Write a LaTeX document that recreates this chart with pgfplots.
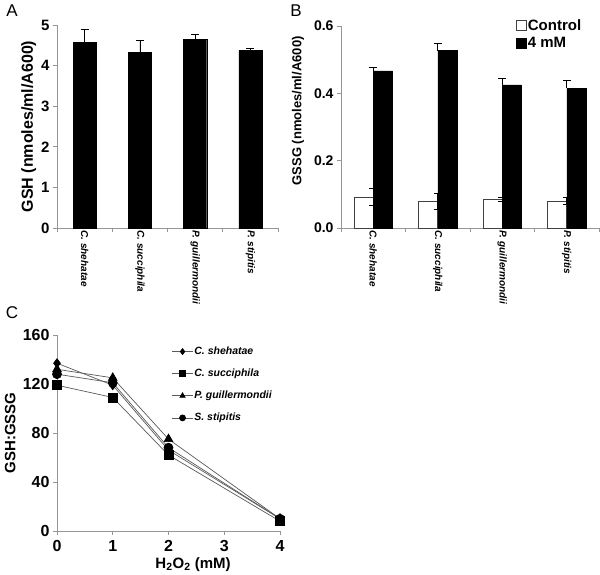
\documentclass[border=0pt]{standalone}
\usepackage{fontspec}
\setmainfont{Liberation Sans}
\usepackage{pgfplots}
\pgfplotsset{compat=1.18}
\definecolor{axgray}{RGB}{150,150,150}
\definecolor{lngray}{RGB}{90,90,90}
\begin{document}
\begin{tikzpicture}
\useasboundingbox (0pt,0pt) rectangle (600pt,575pt);
\pgfplotsset{
  common/.style={
    scale only axis,
    axis x line*=bottom, axis y line*=left,
    axis line style={draw=axgray,-},
    tick style={draw=axgray, line width=0.6pt},
    tick align=outside,
    major tick length=4pt,
    /pgf/number format/assume math mode=true,
    clip=false,
  },
  catx/.style={
    xmin=-0.5, xmax=3.5,
    xtick={-0.5,0.5,1.5,2.5,3.5}, xticklabels={},
    extra x ticks={0,1,2,3},
    extra x tick labels={C. shehatae, C. succiphila, P. guillermondii, P. stipitis},
    extra x tick style={major tick length=0pt,
      xticklabel style={rotate=-90, anchor=west, xshift=-1pt,
      font=\fontsize{10}{11}\selectfont\bfseries\itshape}},
  },
}
% ---------------- Panel A ----------------
\begin{axis}[common, catx,
  anchor=south west, at={(57pt,347pt)}, width=221pt, height=203pt,
  ymin=0, ymax=5, ytick={0,1,2,3,4,5},
  yticklabel style={font=\fontsize{15}{17}\selectfont\bfseries},
  ylabel={GSH (nmoles/ml/A600)},
  ylabel style={at={(axis description cs:-0.128,0.5)}, anchor=center,
    font=\fontsize{16}{18}\selectfont\bfseries},
]
\addplot[ybar, bar width=0.42, fill=black, draw=black,
  error bars/.cd, y dir=plus, y explicit,
  error bar style={black, line width=0.6pt},
  error mark options={rotate=90, mark size=4pt, black, line width=0.6pt}]
  coordinates {(0,4.58) +- (0,0.32) (1,4.32) +- (0,0.31) (2,4.65) +- (0,0.13) (3,4.37) +- (0,0.05)};
\end{axis}
% ---------------- Panel B ----------------
\begin{axis}[common, catx,
  anchor=south west, at={(341pt,347pt)}, width=258pt, height=202pt,
  ymin=0, ymax=0.6, ytick={0,0.2,0.4,0.6},
  yticklabel style={font=\fontsize{14}{16}\selectfont\bfseries,
    /pgf/number format/.cd, fixed, fixed zerofill, precision=1},
  ylabel={GSSG (nmoles/ml/A600)},
  ylabel style={at={(axis description cs:-0.167,0.58)}, anchor=center,
    font=\fontsize{13}{15}\selectfont\bfseries},
  legend style={at={(axis description cs:0.665,1.05)}, anchor=north west, draw=none, fill=none,
    font=\fontsize{15}{17}\selectfont\bfseries, row sep=2pt,
    nodes={inner sep=1.5pt}},
  legend cell align=left,
  legend image code/.code={\draw[#1,line width=0.6pt] (0pt,-5pt) rectangle (10pt,5pt);},
]
\addplot[ybar, bar width=0.295, bar shift=-0.1475, fill=white, draw=black!75, line width=0.6pt,
  error bars/.cd, y dir=both, y explicit,
  error bar style={black, line width=0.6pt},
  error mark options={rotate=90, mark size=4pt, black, line width=0.6pt}]
  coordinates {(0,0.092) +- (0,0.026) (1,0.080) +- (0,0.024) (2,0.085) +- (0,0.005) (3,0.080) +- (0,0.010)};
\addlegendentry{Control}
\addplot[ybar, bar width=0.295, bar shift=0.1475, fill=black, draw=black,
  error bars/.cd, y dir=plus, y explicit,
  error bar style={black, line width=0.6pt},
  error mark options={rotate=90, mark size=4pt, black, line width=0.6pt}]
  coordinates {(0,0.467) +- (0,0.011) (1,0.527) +- (0,0.021) (2,0.425) +- (0,0.020) (3,0.415) +- (0,0.025)};
\addlegendentry{4 mM}
\end{axis}
% ---------------- Panel C ----------------
\begin{axis}[common,
  anchor=south west, at={(57pt,44pt)}, width=223pt, height=196pt,
  xmin=0, xmax=4, ymin=0, ymax=160,
  xtick={0,1,2,3,4}, ytick={0,40,80,120,160},
  ticklabel style={font=\fontsize{16}{18}\selectfont\bfseries},
  xticklabel style={yshift=-2pt},
  xlabel={H\textsubscript{2}O\textsubscript{2} (mM)},
  ylabel={GSH:GSSG},
  ylabel style={at={(axis description cs:-0.21,0.5)}, anchor=center,
    font=\fontsize{15}{17}\selectfont\bfseries},
  xlabel style={at={(axis description cs:0.61,-0.172)}, anchor=center,
    font=\fontsize{15}{17}\selectfont\bfseries},
  legend style={at={(axis description cs:0.5,0.955)}, anchor=north west, draw=none, fill=none,
    font=\fontsize{10.5}{12}\selectfont\bfseries\itshape, row sep=11pt,
    nodes={inner sep=1pt}},
  legend cell align=left,
  legend image code/.code={\draw[mark repeat=2,mark phase=2,#1] plot coordinates {(0pt,0pt) (10.5pt,0pt) (21pt,0pt)};},
  legend image post style={mark size=3pt},
]
\addplot[lngray, line width=0.7pt, mark=diamond*, mark size=4.5pt, mark options={fill=black, draw=black}]
  coordinates {(0,137) (1,119) (2,66) (4,10)};
\addlegendentry{C. shehatae}
\addplot[lngray, line width=0.7pt, mark=square*, mark size=4.5pt, mark options={fill=black, draw=black}]
  coordinates {(0,119) (1,109) (2,62) (4,8)};
\addlegendentry{C. succiphila}
\addplot[lngray, line width=0.7pt, mark=triangle*, mark size=5pt, mark options={fill=black, draw=black}]
  coordinates {(0,132) (1,125) (2,75) (4,10)};
\addlegendentry{P. guillermondii}
\addplot[lngray, line width=0.7pt, mark=*, mark size=4.5pt, mark options={fill=black, draw=black}]
  coordinates {(0,128) (1,121) (2,68) (4,10)};
\addlegendentry{S. stipitis}
\end{axis}
% panel letters
\node[font=\fontsize{17}{19}\selectfont] at (12pt,564pt) {A};
\node[font=\fontsize{17}{19}\selectfont] at (296pt,564pt) {B};
\node[font=\fontsize{17}{19}\selectfont] at (12pt,262pt) {C};
\end{tikzpicture}
\end{document}
